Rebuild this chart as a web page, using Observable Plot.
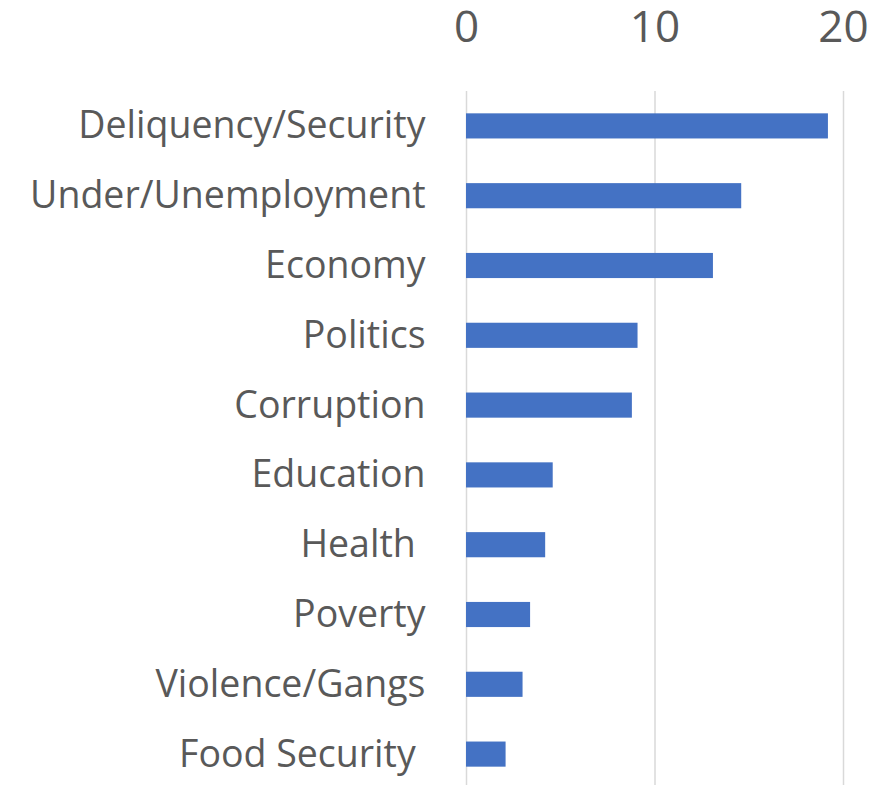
<!DOCTYPE html>
<html>
<head>
<meta charset="utf-8">
<script src="https://cdn.jsdelivr.net/npm/d3@7"></script>
<script src="https://cdn.jsdelivr.net/npm/@observablehq/plot@0.6"></script>
<style>
html, body { margin: 0; padding: 0; background: #fff; overflow: hidden; }
</style>
</head>
<body>
<div id="chart"></div>
<script>
const categories = ["Deliquency/Security", "Under/Unemployment", "Economy", "Politics", "Corruption", "Education", "Health ", "Poverty", "Violence/Gangs", "Food Security "];
const values = [19.2, 14.6, 13.1, 9.1, 8.8, 4.6, 4.2, 3.4, 3.0, 2.1];
const xTicks = [0, 10, 20];

const data = categories.map((c, i) => ({category: c, value: values[i]}));

const chart = Plot.plot({
  width: 894,
  height: 789,
  marginTop: 91,
  marginBottom: 0,
  marginLeft: 466,
  marginRight: 51,
  style: {fontFamily: "Open Sans", color: "#595959", background: "#fff"},
  x: {domain: [0, 20], ticks: xTicks, axis: null},
  y: {domain: categories, paddingInner: 0.64, paddingOuter: 0.32, round: false, axis: null},
  marks: [
    Plot.gridX(xTicks, {stroke: "#d9d9d9", strokeOpacity: 1, strokeWidth: 1.5}),
    Plot.barX(data, {x: "value", y: "category", fill: "#4472c4"}),
    Plot.axisX(xTicks, {anchor: "top", label: null, tickSize: 0, tickPadding: 50, fontSize: 44, fill: "#595959"}),
    Plot.axisY(categories, {anchor: "left", label: null, tickSize: 0, tickPadding: 41, fontSize: 37.5, fill: "#595959",
      tickFormat: d => d.replace(/ $/, "\u00a0")})
  ]
});
document.getElementById("chart").appendChild(chart);
</script>
</body>
</html>
